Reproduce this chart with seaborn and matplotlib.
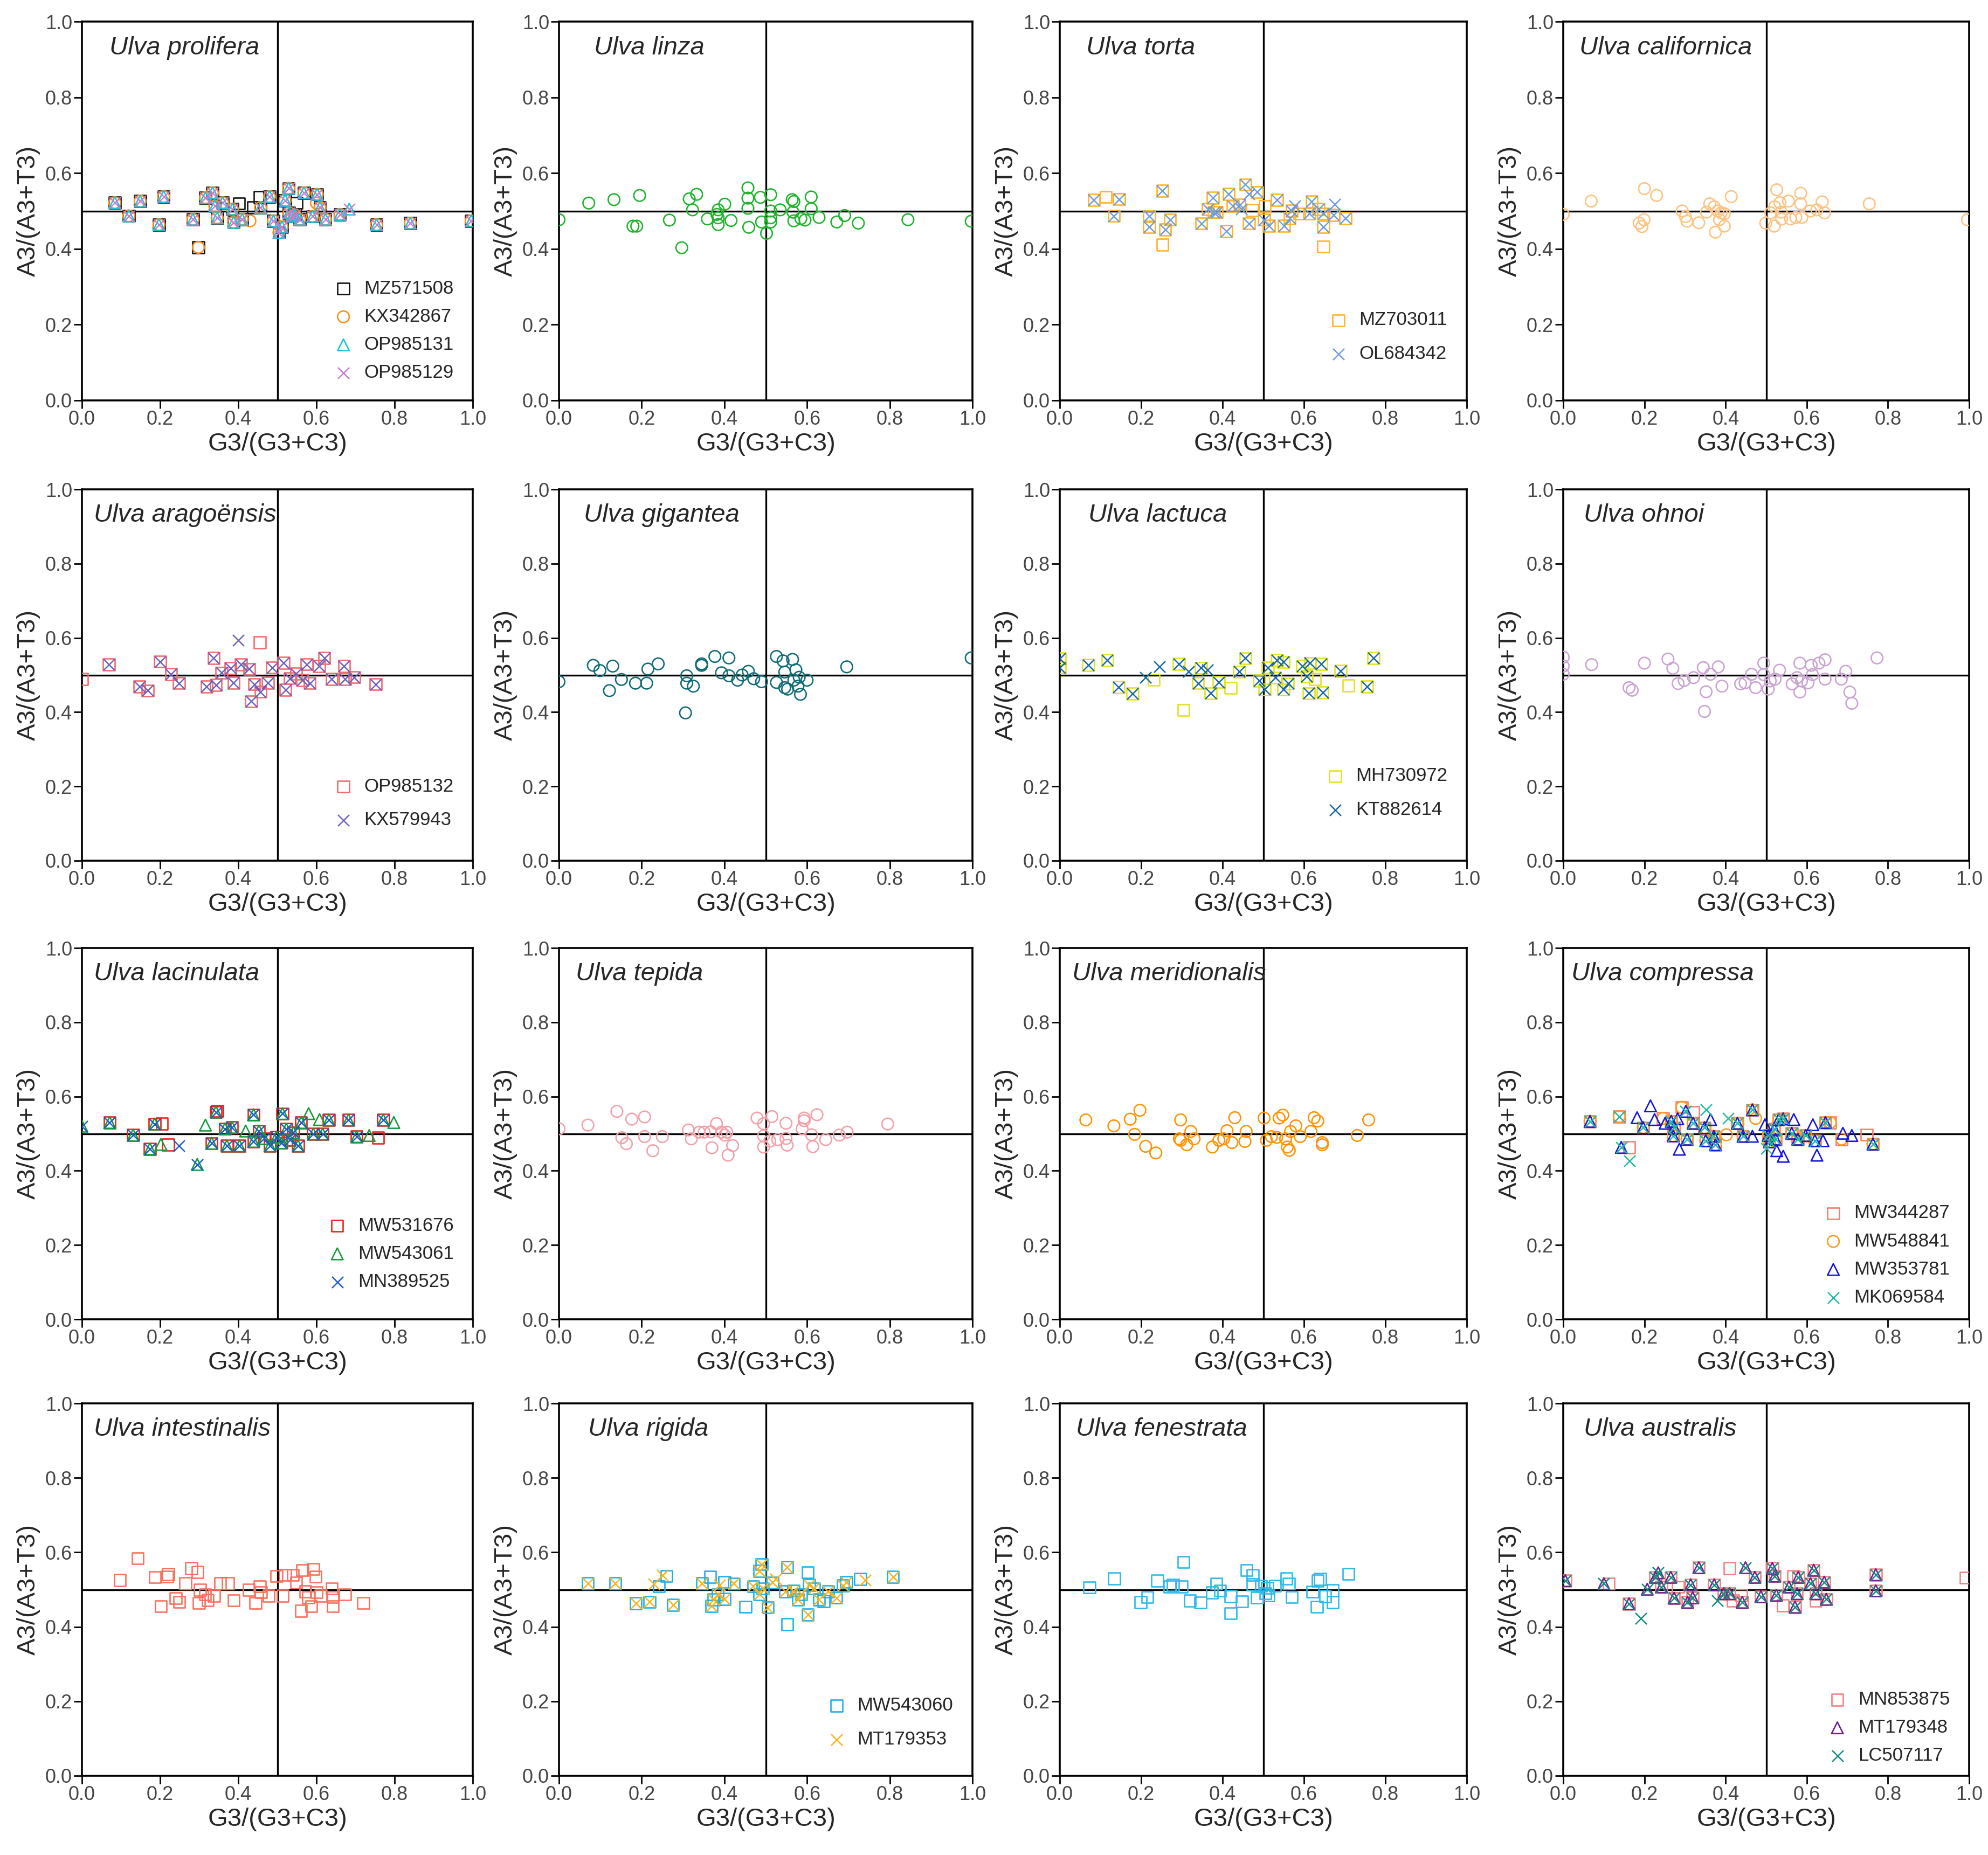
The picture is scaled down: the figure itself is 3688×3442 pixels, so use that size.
import matplotlib
matplotlib.use("Agg")
import matplotlib.pyplot as plt
import seaborn as sns

sns.set_style("white")
plt.rcParams["font.family"] = ["Liberation Sans", "DejaVu Sans"]

# ---------------- data ----------------
# Ulva prolifera: points where all four accessions overlap, then the extras
prolifera_x = [0.084, 0.12, 0.149, 0.197, 0.209, 0.284, 0.316, 0.334, 0.34, 0.346, 0.36, 0.385,
               0.388, 0.41, 0.457, 0.48, 0.49, 0.504, 0.512, 0.52, 0.529, 0.53, 0.537, 0.545,
               0.557, 0.568, 0.59, 0.602, 0.609, 0.623, 0.66, 0.754, 0.84, 0.996]
prolifera_y = [0.522, 0.487, 0.526, 0.464, 0.538, 0.478, 0.535, 0.548, 0.513, 0.482, 0.522, 0.505,
               0.47, 0.478, 0.509, 0.538, 0.474, 0.443, 0.458, 0.528, 0.56, 0.495, 0.486, 0.49,
               0.478, 0.548, 0.486, 0.544, 0.509, 0.478, 0.491, 0.464, 0.468, 0.474]
MZ571508_x = prolifera_x + [0.298, 0.402, 0.438, 0.455, 0.549]
MZ571508_y = prolifera_y + [0.404, 0.52, 0.509, 0.536, 0.521]
KX342867_x = prolifera_x + [0.298, 0.43, 0.6]
KX342867_y = prolifera_y + [0.404, 0.474, 0.521]
OP985131_x = prolifera_x + [0.684]
OP985131_y = prolifera_y + [0.505]
OP985129_x = prolifera_x + [0.684]
OP985129_y = prolifera_y + [0.505]

linza_x = [0.0, 0.072, 0.133, 0.195, 0.179, 0.188, 0.267, 0.297, 0.315, 0.323, 0.333, 0.359, 0.382,
           0.385, 0.385, 0.385, 0.401, 0.416, 0.457, 0.457, 0.457, 0.459, 0.487, 0.49, 0.502, 0.512,
           0.512, 0.512, 0.512, 0.535, 0.564, 0.568, 0.566, 0.568, 0.585, 0.595, 0.61, 0.61, 0.629,
           0.672, 0.691, 0.724, 0.844, 0.997]
linza_y = [0.477, 0.521, 0.53, 0.541, 0.46, 0.46, 0.476, 0.403, 0.532, 0.503, 0.544, 0.479, 0.491,
           0.503, 0.482, 0.464, 0.518, 0.475, 0.561, 0.534, 0.507, 0.457, 0.536, 0.471, 0.441, 0.543,
           0.5, 0.482, 0.471, 0.503, 0.53, 0.525, 0.497, 0.474, 0.48, 0.476, 0.537, 0.506, 0.483,
           0.471, 0.488, 0.468, 0.477, 0.473]

torta_x = [0.084, 0.146, 0.133, 0.22, 0.22, 0.252, 0.259, 0.271, 0.348, 0.364, 0.376, 0.379, 0.386,
           0.409, 0.415, 0.425, 0.442, 0.456, 0.465, 0.485, 0.502, 0.514, 0.534, 0.551, 0.565, 0.57,
           0.613, 0.619, 0.636, 0.648, 0.648, 0.673, 0.702]
torta_y = [0.529, 0.531, 0.487, 0.486, 0.458, 0.553, 0.451, 0.477, 0.467, 0.505, 0.535, 0.497, 0.497,
           0.447, 0.545, 0.513, 0.517, 0.57, 0.467, 0.55, 0.477, 0.461, 0.529, 0.461, 0.481, 0.501,
           0.493, 0.525, 0.505, 0.458, 0.493, 0.489, 0.481]
MZ703011_x = torta_x + [0.113, 0.252, 0.473, 0.504, 0.589, 0.648]
MZ703011_y = torta_y + [0.537, 0.411, 0.502, 0.513, 0.493, 0.406]
OL684342_x = torta_x + [0.465, 0.578, 0.675, 0.447]
OL684342_y = torta_y + [0.545, 0.514, 0.518, 0.505]

californica_x = [0.0, 0.069, 0.2, 0.23, 0.187, 0.199, 0.194, 0.293, 0.301, 0.305, 0.334, 0.353, 0.361,
                 0.372, 0.381, 0.385, 0.389, 0.397, 0.375, 0.397, 0.414, 0.499, 0.511, 0.52, 0.521,
                 0.526, 0.534, 0.537, 0.538, 0.555, 0.56, 0.573, 0.585, 0.585, 0.588, 0.609, 0.625,
                 0.638, 0.644, 0.754, 0.996]
californica_y = [0.491, 0.526, 0.559, 0.541, 0.468, 0.477, 0.459, 0.5, 0.485, 0.473, 0.469, 0.497, 0.519,
                 0.511, 0.5, 0.477, 0.495, 0.493, 0.444, 0.46, 0.538, 0.468, 0.495, 0.46, 0.511,
                 0.556, 0.522, 0.497, 0.479, 0.526, 0.479, 0.483, 0.547, 0.519, 0.483, 0.5, 0.503,
                 0.524, 0.495, 0.519, 0.477]

aragoensis_x = [0.069, 0.147, 0.168, 0.2, 0.228, 0.248, 0.319, 0.337, 0.343, 0.357, 0.38, 0.388, 0.407,
                0.428, 0.433, 0.441, 0.457, 0.476, 0.487, 0.516, 0.521, 0.532, 0.548, 0.564, 0.575,
                0.583, 0.607, 0.62, 0.639, 0.671, 0.673, 0.697, 0.752]
aragoensis_y = [0.528, 0.469, 0.458, 0.536, 0.502, 0.478, 0.469, 0.546, 0.473, 0.506, 0.518, 0.479, 0.528,
                0.516, 0.429, 0.475, 0.455, 0.479, 0.52, 0.533, 0.46, 0.491, 0.504, 0.486, 0.529,
                0.478, 0.524, 0.546, 0.489, 0.524, 0.489, 0.494, 0.475]
OP985132_x = aragoensis_x + [0.0, 0.455]
OP985132_y = aragoensis_y + [0.489, 0.588]
KX579943_x = aragoensis_x + [0.4]
KX579943_y = aragoensis_y + [0.594]

gigantea_x = [0.0, 0.083, 0.099, 0.122, 0.13, 0.151, 0.185, 0.212, 0.215, 0.24, 0.306, 0.309, 0.309,
              0.325, 0.345, 0.345, 0.377, 0.393, 0.411, 0.411, 0.432, 0.443, 0.458, 0.471, 0.49, 0.526,
              0.526, 0.542, 0.546, 0.546, 0.553, 0.565, 0.568, 0.573, 0.578, 0.581, 0.584, 0.6, 0.696,
              0.997]
gigantea_y = [0.482, 0.526, 0.512, 0.458, 0.524, 0.488, 0.478, 0.478, 0.516, 0.53, 0.398, 0.498, 0.478,
              0.47, 0.526, 0.53, 0.55, 0.506, 0.546, 0.498, 0.486, 0.5, 0.51, 0.49, 0.482, 0.55,
              0.48, 0.538, 0.508, 0.466, 0.462, 0.542, 0.486, 0.514, 0.47, 0.494, 0.448, 0.486, 0.522,
              0.546]

lactuca_x = [0.0, 0.0, 0.07, 0.117, 0.145, 0.179, 0.293, 0.34, 0.347, 0.371, 0.391, 0.441, 0.456, 0.49,
             0.503, 0.511, 0.53, 0.534, 0.55, 0.55, 0.561, 0.596, 0.607, 0.612, 0.615, 0.643, 0.646,
             0.69, 0.755, 0.771]
lactuca_y = [0.544, 0.52, 0.527, 0.54, 0.467, 0.45, 0.53, 0.478, 0.519, 0.451, 0.481, 0.509, 0.545, 0.485,
             0.461, 0.52, 0.493, 0.54, 0.535, 0.461, 0.477, 0.524, 0.496, 0.451, 0.532, 0.53, 0.453,
             0.511, 0.469, 0.546]
MH730972_x = lactuca_x + [0.231, 0.304, 0.42, 0.627, 0.709]
MH730972_y = lactuca_y + [0.487, 0.406, 0.465, 0.489, 0.472]
KT882614_x = lactuca_x + [0.21, 0.245, 0.316, 0.363]
KT882614_y = lactuca_y + [0.493, 0.522, 0.509, 0.514]

ohnoi_x = [0.0, 0.0, 0.0, 0.07, 0.162, 0.17, 0.2, 0.258, 0.27, 0.283, 0.298, 0.321, 0.345, 0.352, 0.348,
           0.363, 0.382, 0.391, 0.437, 0.448, 0.464, 0.474, 0.494, 0.494, 0.505, 0.51, 0.522, 0.533,
           0.564, 0.576, 0.583, 0.583, 0.587, 0.603, 0.611, 0.614, 0.63, 0.645, 0.645, 0.685, 0.696,
           0.706, 0.711, 0.773]
ohnoi_y = [0.548, 0.524, 0.502, 0.528, 0.466, 0.459, 0.532, 0.543, 0.518, 0.477, 0.485, 0.493, 0.52,
           0.455, 0.402, 0.502, 0.522, 0.47, 0.476, 0.479, 0.502, 0.466, 0.532, 0.501, 0.462, 0.484,
           0.489, 0.513, 0.476, 0.493, 0.532, 0.454, 0.484, 0.479, 0.526, 0.501, 0.532, 0.541, 0.489,
           0.489, 0.51, 0.454, 0.424, 0.546]

lacinulata_x = [0.071, 0.131, 0.174, 0.186, 0.332, 0.343, 0.366, 0.371, 0.384, 0.403, 0.439, 0.439,
                0.453, 0.466, 0.481, 0.498, 0.51, 0.513, 0.523, 0.532, 0.541, 0.553, 0.561, 0.592,
                0.616, 0.632, 0.682, 0.703, 0.771]
lacinulata_y = [0.53, 0.496, 0.459, 0.526, 0.474, 0.558, 0.513, 0.467, 0.517, 0.467, 0.551, 0.479,
                0.507, 0.487, 0.467, 0.491, 0.475, 0.554, 0.512, 0.483, 0.503, 0.467, 0.53, 0.499,
                0.499, 0.537, 0.537, 0.492, 0.537]
MW531676_x = lacinulata_x + [0.205, 0.221, 0.346, 0.758]
MW531676_y = lacinulata_y + [0.527, 0.47, 0.561, 0.489]
MW543061_x = lacinulata_x + [0.0, 0.295, 0.202, 0.316, 0.419, 0.58, 0.608, 0.735, 0.798]
MW543061_y = lacinulata_y + [0.52, 0.417, 0.471, 0.523, 0.507, 0.554, 0.538, 0.495, 0.53]
MN389525_x = lacinulata_x + [0.0, 0.295, 0.248]
MN389525_y = lacinulata_y + [0.52, 0.417, 0.467]

tepida_x = [0.0, 0.07, 0.14, 0.152, 0.163, 0.176, 0.207, 0.207, 0.227, 0.25, 0.313, 0.32, 0.339, 0.351,
            0.367, 0.37, 0.381, 0.393, 0.401, 0.406, 0.409, 0.42, 0.479, 0.495, 0.495, 0.495, 0.515,
            0.51, 0.529, 0.549, 0.549, 0.552, 0.588, 0.593, 0.593, 0.611, 0.614, 0.624, 0.645, 0.678,
            0.697, 0.795]
tepida_y = [0.513, 0.523, 0.56, 0.489, 0.473, 0.539, 0.545, 0.492, 0.454, 0.492, 0.51, 0.486, 0.504,
            0.504, 0.505, 0.462, 0.527, 0.504, 0.496, 0.504, 0.442, 0.468, 0.542, 0.527, 0.494, 0.464,
            0.546, 0.48, 0.484, 0.528, 0.487, 0.469, 0.513, 0.542, 0.535, 0.497, 0.465, 0.551, 0.484,
            0.496, 0.504, 0.526]

meridionalis_x = [0.064, 0.133, 0.173, 0.184, 0.197, 0.211, 0.236, 0.297, 0.294, 0.297, 0.312, 0.322,
                  0.33, 0.375, 0.391, 0.403, 0.411, 0.423, 0.43, 0.455, 0.458, 0.502, 0.508, 0.52,
                  0.533, 0.539, 0.548, 0.555, 0.559, 0.564, 0.567, 0.58, 0.591, 0.617, 0.625, 0.634,
                  0.645, 0.645, 0.731, 0.759]
meridionalis_y = [0.537, 0.521, 0.539, 0.498, 0.563, 0.466, 0.448, 0.537, 0.486, 0.482, 0.47, 0.506,
                  0.486, 0.464, 0.482, 0.486, 0.508, 0.476, 0.543, 0.479, 0.506, 0.542, 0.482, 0.492,
                  0.49, 0.542, 0.55, 0.486, 0.464, 0.455, 0.506, 0.521, 0.492, 0.506, 0.543, 0.534,
                  0.476, 0.47, 0.495, 0.537]

compressa_x = [0.066, 0.197, 0.266, 0.274, 0.271, 0.305, 0.32, 0.348, 0.351, 0.371, 0.375, 0.429, 0.443,
               0.466, 0.505, 0.508, 0.52, 0.523, 0.531, 0.542, 0.563, 0.578, 0.597, 0.62, 0.646, 0.763]
compressa_y = [0.533, 0.516, 0.533, 0.516, 0.494, 0.485, 0.528, 0.516, 0.481, 0.493, 0.47, 0.528, 0.493,
               0.564, 0.495, 0.478, 0.512, 0.485, 0.538, 0.54, 0.501, 0.485, 0.495, 0.481, 0.53, 0.472]
MW344287_x = compressa_x + [0.138, 0.163, 0.246, 0.292, 0.32, 0.658, 0.686, 0.748]
MW344287_y = compressa_y + [0.546, 0.463, 0.541, 0.571, 0.557, 0.53, 0.485, 0.497]
MW548841_x = compressa_x + [0.138, 0.246, 0.292, 0.402, 0.474, 0.658, 0.686]
MW548841_y = compressa_y + [0.546, 0.541, 0.571, 0.497, 0.541, 0.53, 0.485]
MW353781_x = compressa_x + [0.143, 0.182, 0.215, 0.225, 0.251, 0.282, 0.286, 0.302, 0.363, 0.466,
                            0.497, 0.526, 0.542, 0.568, 0.615, 0.625, 0.64, 0.689, 0.711]
MW353781_y = compressa_y + [0.463, 0.543, 0.575, 0.538, 0.528, 0.54, 0.458, 0.56, 0.538, 0.493,
                            0.524, 0.454, 0.439, 0.538, 0.524, 0.442, 0.481, 0.501, 0.495]
MK069584_x = compressa_x + [0.138, 0.143, 0.163, 0.302, 0.352, 0.406, 0.5]
MK069584_y = compressa_y + [0.546, 0.463, 0.427, 0.56, 0.564, 0.541, 0.46]

intestinalis_x = [0.097, 0.143, 0.187, 0.202, 0.218, 0.221, 0.24, 0.249, 0.265, 0.28, 0.296, 0.302,
                  0.299, 0.315, 0.322, 0.338, 0.354, 0.374, 0.388, 0.427, 0.444, 0.455, 0.458, 0.478,
                  0.498, 0.514, 0.52, 0.54, 0.548, 0.561, 0.564, 0.572, 0.579, 0.587, 0.592, 0.598,
                  0.6, 0.611, 0.639, 0.642, 0.642, 0.673, 0.72]
intestinalis_y = [0.525, 0.584, 0.533, 0.455, 0.535, 0.541, 0.477, 0.467, 0.517, 0.557, 0.547, 0.499,
                  0.464, 0.487, 0.472, 0.483, 0.517, 0.517, 0.471, 0.499, 0.464, 0.509, 0.493, 0.483,
                  0.536, 0.483, 0.539, 0.539, 0.519, 0.443, 0.552, 0.495, 0.479, 0.455, 0.555, 0.535,
                  0.493, 0.483, 0.503, 0.48, 0.455, 0.487, 0.464]

rigida_x = [0.07, 0.136, 0.186, 0.219, 0.276, 0.346, 0.369, 0.374, 0.384, 0.4, 0.423, 0.47, 0.485,
            0.49, 0.485, 0.493, 0.505, 0.516, 0.547, 0.552, 0.567, 0.578, 0.586, 0.602, 0.605, 0.617,
            0.629, 0.651, 0.671, 0.687, 0.695, 0.808]
rigida_y = [0.517, 0.517, 0.463, 0.467, 0.459, 0.517, 0.456, 0.473, 0.487, 0.475, 0.516, 0.509, 0.55,
            0.568, 0.487, 0.503, 0.452, 0.519, 0.495, 0.56, 0.497, 0.473, 0.487, 0.433, 0.512, 0.503,
            0.473, 0.495, 0.478, 0.511, 0.52, 0.534]
MW543060_x = rigida_x + [0.242, 0.26, 0.366, 0.4, 0.451, 0.552, 0.602, 0.64, 0.729]
MW543060_y = rigida_y + [0.509, 0.536, 0.534, 0.52, 0.454, 0.407, 0.546, 0.469, 0.528]
MT179353_x = rigida_x + [0.229, 0.25, 0.389, 0.524, 0.741]
MT179353_y = rigida_y + [0.515, 0.538, 0.512, 0.528, 0.526]

fenestrata_x = [0.073, 0.134, 0.199, 0.215, 0.24, 0.27, 0.278, 0.3, 0.304, 0.32, 0.346, 0.374, 0.385,
                0.394, 0.42, 0.42, 0.448, 0.459, 0.474, 0.474, 0.485, 0.495, 0.505, 0.51, 0.513, 0.529,
                0.557, 0.563, 0.57, 0.621, 0.632, 0.634, 0.64, 0.652, 0.671, 0.671, 0.709]
fenestrata_y = [0.506, 0.53, 0.466, 0.48, 0.524, 0.508, 0.512, 0.508, 0.574, 0.47, 0.465, 0.492, 0.516,
                0.497, 0.482, 0.436, 0.468, 0.552, 0.539, 0.514, 0.478, 0.51, 0.49, 0.504, 0.484, 0.51,
                0.53, 0.516, 0.48, 0.494, 0.454, 0.524, 0.528, 0.482, 0.498, 0.466, 0.542]

australis_x = [0.005, 0.162, 0.227, 0.242, 0.265, 0.273, 0.306, 0.314, 0.319, 0.334, 0.372, 0.395, 0.41,
               0.441, 0.472, 0.487, 0.515, 0.521, 0.525, 0.556, 0.571, 0.576, 0.579, 0.609, 0.617,
               0.622, 0.643, 0.648, 0.77, 0.77]
australis_y = [0.524, 0.462, 0.533, 0.507, 0.533, 0.477, 0.466, 0.513, 0.478, 0.559, 0.513, 0.489, 0.489,
               0.466, 0.533, 0.481, 0.557, 0.536, 0.485, 0.507, 0.453, 0.489, 0.533, 0.516, 0.552,
               0.489, 0.52, 0.474, 0.54, 0.497]
MN853875_x = australis_x + [0.112, 0.283, 0.41, 0.418, 0.438, 0.541, 0.567, 0.622, 0.992]
MN853875_y = australis_y + [0.516, 0.507, 0.557, 0.47, 0.485, 0.457, 0.536, 0.47, 0.532]
MT179348_x = australis_x + [0.1, 0.207, 0.234, 0.449]
MT179348_y = australis_y + [0.516, 0.501, 0.545, 0.559]
LC507117_x = australis_x + [0.1, 0.191, 0.207, 0.234, 0.38, 0.449]
LC507117_y = australis_y + [0.516, 0.423, 0.501, 0.545, 0.47, 0.559]

tick_values = [0.0, 0.2, 0.4, 0.6, 0.8, 1.0]
tick_labels = ["0.0", "0.2", "0.4", "0.6", "0.8", "1.0"]

panels = [
    ("Ulva prolifera", [("MZ571508", "s", "#111111", MZ571508_x, MZ571508_y),
                        ("KX342867", "o", "#FF8C1A", KX342867_x, KX342867_y),
                        ("OP985131", "^", "#19C3DC", OP985131_x, OP985131_y),
                        ("OP985129", "x", "#C77CCB", OP985129_x, OP985129_y)]),
    ("Ulva linza", [(None, "o", "#1DB52A", linza_x, linza_y)]),
    ("Ulva torta", [("MZ703011", "s", "#FFB327", MZ703011_x, MZ703011_y),
                    ("OL684342", "x", "#6E9BDA", OL684342_x, OL684342_y)]),
    ("Ulva californica", [(None, "o", "#FFC27F", californica_x, californica_y)]),
    ("Ulva aragoënsis", [("OP985132", "s", "#F26B6B", OP985132_x, OP985132_y),
                         ("KX579943", "x", "#6B5FC0", KX579943_x, KX579943_y)]),
    ("Ulva gigantea", [(None, "o", "#0F6C76", gigantea_x, gigantea_y)]),
    ("Ulva lactuca", [("MH730972", "s", "#E2E21E", MH730972_x, MH730972_y),
                      ("KT882614", "x", "#17679E", KT882614_x, KT882614_y)]),
    ("Ulva ohnoi", [(None, "o", "#CBA3D3", ohnoi_x, ohnoi_y)]),
    ("Ulva lacinulata", [("MW531676", "s", "#E8221C", MW531676_x, MW531676_y),
                         ("MW543061", "^", "#189A3A", MW543061_x, MW543061_y),
                         ("MN389525", "x", "#1A5CC6", MN389525_x, MN389525_y)]),
    ("Ulva tepida", [(None, "o", "#F5A0A8", tepida_x, tepida_y)]),
    ("Ulva meridionalis", [(None, "o", "#FF9305", meridionalis_x, meridionalis_y)]),
    ("Ulva compressa", [("MW344287", "s", "#F47F72", MW344287_x, MW344287_y),
                        ("MW548841", "o", "#FF9A17", MW548841_x, MW548841_y),
                        ("MW353781", "^", "#1414E0", MW353781_x, MW353781_y),
                        ("MK069584", "x", "#1FB9A0", MK069584_x, MK069584_y)]),
    ("Ulva intestinalis", [(None, "s", "#F8705E", intestinalis_x, intestinalis_y)]),
    ("Ulva rigida", [("MW543060", "s", "#1DB1E8", MW543060_x, MW543060_y),
                     ("MT179353", "x", "#F7B215", MT179353_x, MT179353_y)]),
    ("Ulva fenestrata", [(None, "s", "#2DB8EA", fenestrata_x, fenestrata_y)]),
    ("Ulva australis", [("MN853875", "s", "#F68080", MN853875_x, MN853875_y),
                        ("MT179348", "^", "#6E1F8E", MT179348_x, MT179348_y),
                        ("LC507117", "x", "#0F8C7E", LC507117_x, LC507117_y)]),
]

# ---------------- layout (pixels of the 3688 x 3442 canvas) ----------------
W, H = 3688, 3442
lefts = [152, 1037, 1966, 2900]
rights = [877, 1804, 2721, 3653]
tops = [40, 908, 1759, 2604]
bottoms = [743, 1597, 2448, 3295]
title_x = [0.07, 0.085, 0.065, 0.04, 0.03, 0.06, 0.07, 0.05,
           0.03, 0.04, 0.03, 0.02, 0.03, 0.07, 0.04, 0.05]
# vertical anchor of each legend (axes fraction), None where there is no legend
legend_y = [0.02, None, 0.07, None, 0.055, None, 0.083, None,
            0.047, None, None, 0.005, None, 0.044, None, 0.0]

fig = plt.figure(figsize=(W / 100, H / 100), dpi=100)

for i, (title, series) in enumerate(panels):
    r, c = divmod(i, 4)
    ax = fig.add_axes([lefts[c] / W, 1 - bottoms[r] / H,
                       (rights[c] - lefts[c]) / W, (bottoms[r] - tops[r]) / H])
    ax.axvline(0.5, color="black", lw=2.4, zorder=1)
    ax.axhline(0.5, color="black", lw=2.4, zorder=1)
    for label, marker, color, xs, ys in series:
        if marker == "x":
            # line marker: drawn with its own colour, no face to hide
            sns.scatterplot(x=xs, y=ys, ax=ax, marker=marker, s=230, color=color,
                            linewidth=1.8, label=label, legend=False, zorder=3)
        else:
            sns.scatterplot(x=xs, y=ys, ax=ax, marker=marker, s=240, color=color,
                            facecolor="none", edgecolor=color, linewidth=1.9,
                            label=label, legend=False, zorder=3)
    ax.set_xlim(0, 1)
    ax.set_ylim(0, 1)
    ax.set_xticks(tick_values)
    ax.set_xticklabels(tick_labels)
    ax.set_yticks(tick_values)
    ax.set_yticklabels(tick_labels)
    ax.tick_params(bottom=True, left=True, direction="out", length=11, width=2,
                   color="black", labelcolor="#444444", labelsize=26, pad=2)
    for sp in ax.spines.values():
        sp.set_color("black")
        sp.set_linewidth(2.6)
    ax.set_xlabel("G3/(G3+C3)", fontsize=34, labelpad=4)
    ax.set_ylabel("A3/(A3+T3)", fontsize=34, labelpad=6)
    ax.text(title_x[i], 0.93, title, transform=ax.transAxes, fontsize=34,
            style="italic", ha="left", va="center", zorder=4)
    if legend_y[i] is not None:
        spacing = 0.55 if len(series) > 2 else 0.85
        ax.legend(loc="lower right", bbox_to_anchor=(0.98, legend_y[i]), frameon=False,
                  fontsize=25, handletextpad=0.6, labelspacing=spacing,
                  handlelength=1.0, borderaxespad=0.2)

fig.savefig("out.png", dpi=100)
